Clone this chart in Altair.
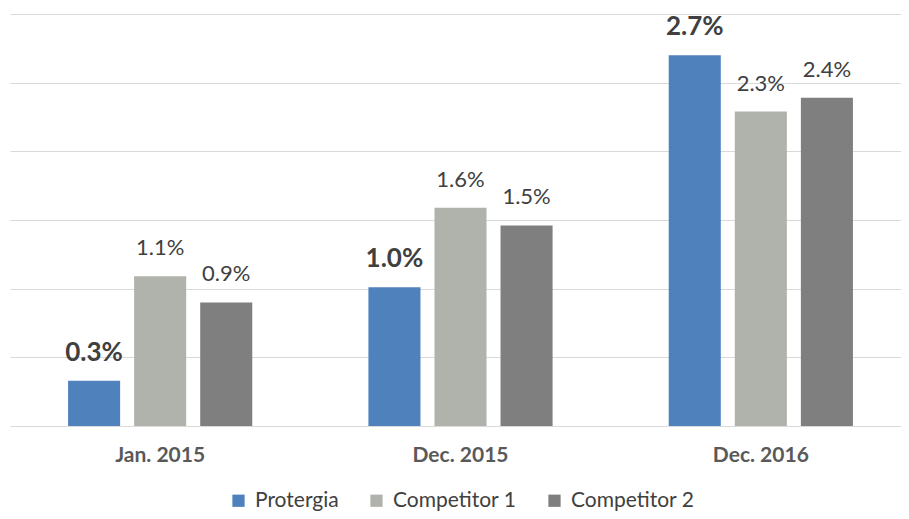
import altair as alt
import pandas as pd

periods = ["Jan. 2015", "Dec. 2015", "Dec. 2016"]
series = ["Protergia", "Competitor 1", "Competitor 2"]
protergia = [0.33, 1.01, 2.70]
competitor1 = [1.09, 1.59, 2.29]
competitor2 = [0.90, 1.46, 2.39]
colors = ["#4F81BD", "#B0B3AB", "#7F7F7F"]
grid_values = [0, 0.5, 1.0, 1.5, 2.0, 2.5, 3.0]

rows = []
for name, vals in zip(series, [protergia, competitor1, competitor2]):
    for p, v in zip(periods, vals):
        rows.append({"period": p, "series": name, "value": v})
df = pd.DataFrame(rows)

base = alt.Chart(df).encode(
    x=alt.X(
        "period:N",
        sort=periods,
        scale=alt.Scale(domain=periods, range=[0, 901], paddingInner=0, paddingOuter=0),
        axis=alt.Axis(
            title=None, labelAngle=0, labelFont="Lato", labelFontWeight="bold",
            labelFontSize=21, labelColor="#595959", domain=False, ticks=False,
            labelPadding=18, grid=False,
        ),
    ),
    xOffset=alt.XOffset(
        "series:N",
        scale=alt.Scale(domain=series, paddingInner=0.212, paddingOuter=0.879),
    ),
    y=alt.Y(
        "value:Q",
        scale=alt.Scale(domain=[0, 3], nice=False),
        axis=alt.Axis(
            title=None, labels=False, ticks=False, domain=False, grid=True,
            values=grid_values, gridColor="#D9D9D9", gridWidth=1,
        ),
    ),
)

bars = base.mark_bar().encode(
    color=alt.Color(
        "series:N",
        scale=alt.Scale(domain=series, range=colors),
        legend=alt.Legend(
            title=None, orient="none", legendX=218, legendY=476,
            direction="horizontal", symbolType="square", symbolSize=150,
            symbolStrokeWidth=0, labelFont="Lato", labelFontSize=21,
            labelColor="#404040", labelOffset=6, columnPadding=27, padding=0,
        ),
    )
)

lab_calc = "format(datum.value, '.1f') + '%'"

labels_p = (
    base.transform_filter(alt.datum.series == "Protergia")
    .transform_calculate(label=lab_calc)
    .mark_text(font="Lato", fontWeight="bold", fontSize=26, color="#404040",
               baseline="alphabetic", dy=-20)
    .encode(text="label:N")
)

labels_c = (
    base.transform_filter(alt.datum.series != "Protergia")
    .transform_calculate(label=lab_calc)
    .mark_text(font="Lato", fontSize=22, color="#404040",
               baseline="alphabetic", dy=-21)
    .encode(text="label:N")
)

chart = (
    alt.layer(bars, labels_p, labels_c)
    .properties(
        width=891, height=412,
        autosize=alt.AutoSizeParams(type="none"),
        padding={"left": 2, "top": 6, "right": 0, "bottom": 85},
    )
    .configure_view(stroke=None)
)

chart.save("out.html", embed_options={"renderer": "svg", "actions": False})
